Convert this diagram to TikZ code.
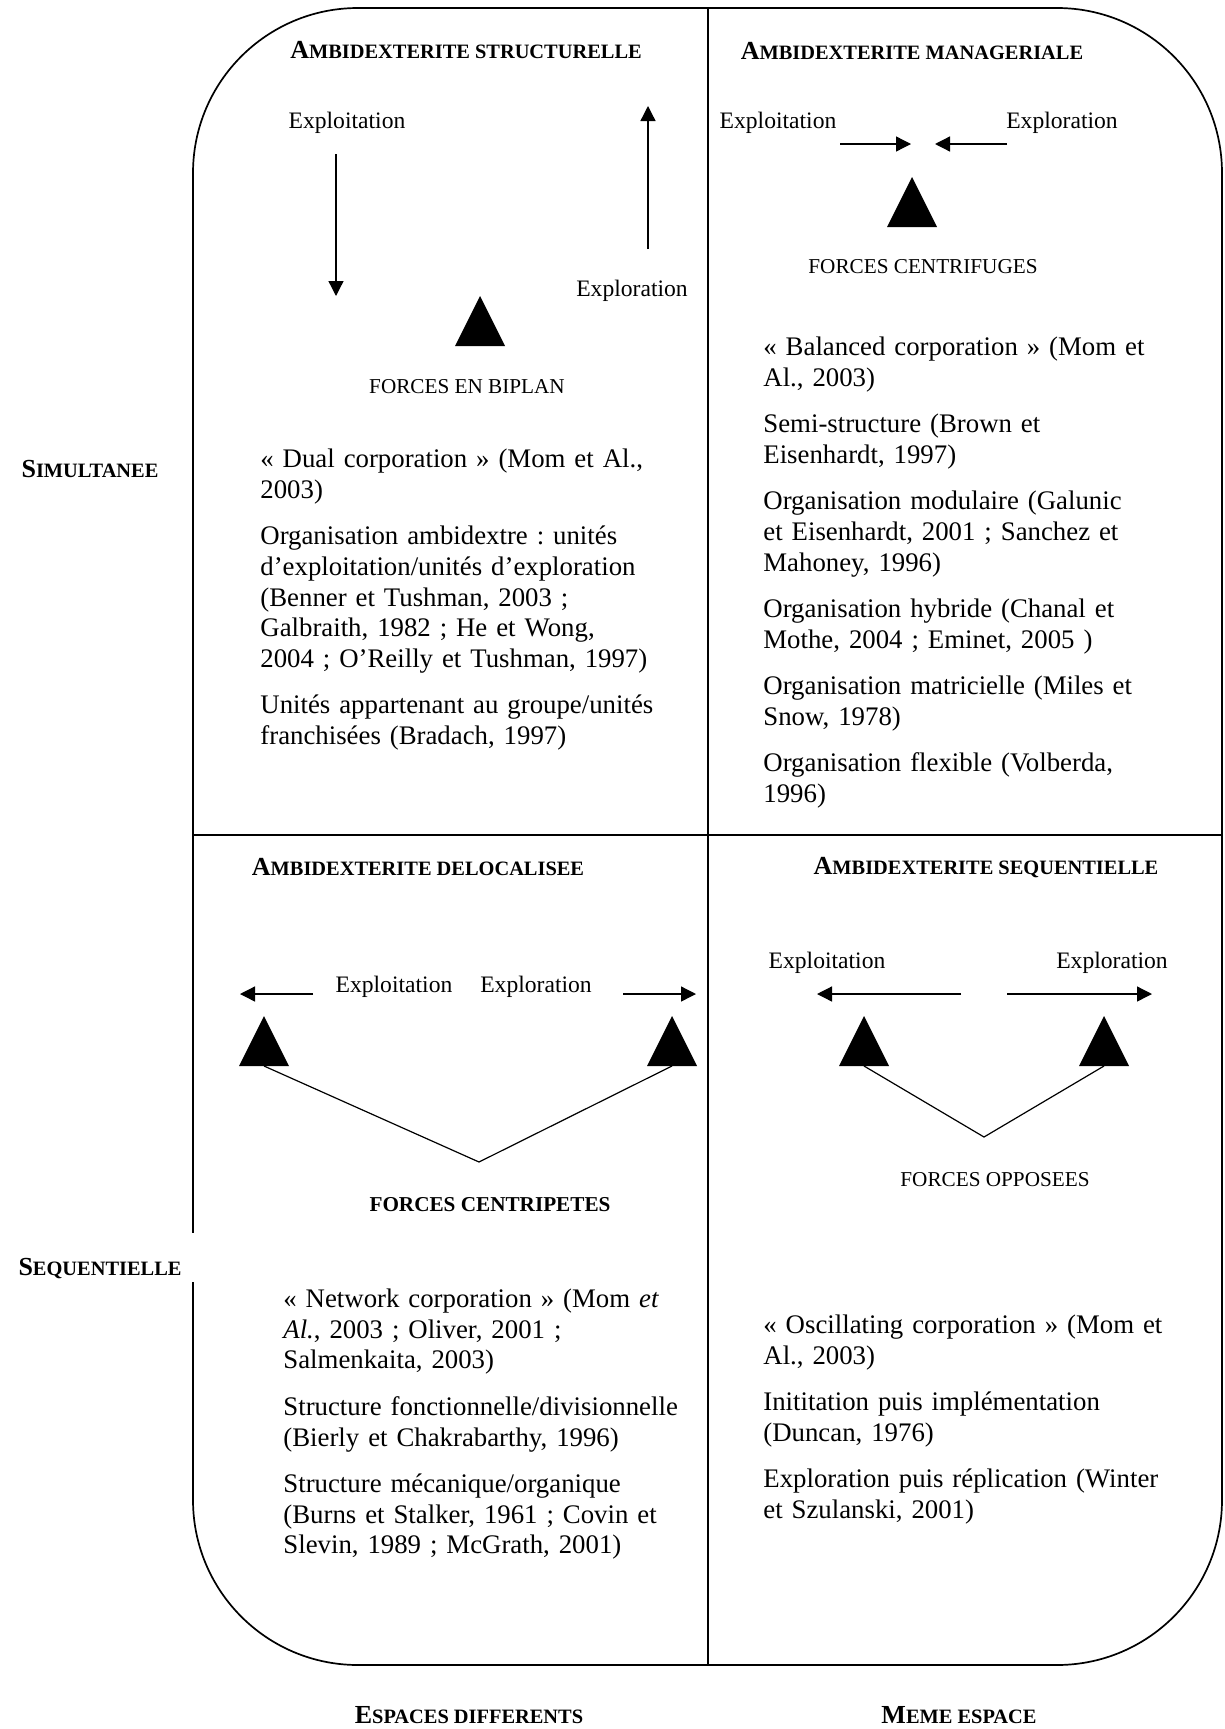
\documentclass[tikz,border=0pt]{standalone}
\usepackage{fontspec}
\setmainfont{Liberation Serif}
\usetikzlibrary{arrows.meta}
% Word-style small capitals: first letter full size, the rest smaller
\newcommand{\fakesc}[2]{#1{\fontsize{10.2}{12}\selectfont #2}}
\frenchspacing

\begin{document}
\begin{tikzpicture}[
    x=0.5pt, y=-0.5pt,
    frame/.style={line width=0.85pt},
    force/.style={line width=0.65pt, -{Triangle[length=7.5pt, width=7.5pt]}},
    link/.style={line width=0.6pt},
    heading/.style={anchor=base, inner sep=0pt, font=\fontsize{13}{15.6}\selectfont\bfseries},
    tag/.style={anchor=base, inner sep=0pt, font=\fontsize{11.8}{14}\selectfont},
    forces/.style={anchor=base, inner sep=0pt, font=\fontsize{10.6}{12.7}\selectfont},
    refs/.style={anchor=north west, inner sep=0pt, align=left, text width=215pt, font=\fontsize{13.4}{15.4}\selectfont}
]
\useasboundingbox (0,0) rectangle (1225,1729);

% Frame and quadrants
\draw[frame, rounded corners=82.5pt] (193,8) rectangle (1222,1665);
\draw[frame] (708,8) -- (708,1665);
\draw[frame] (193,835) -- (1222,835);

% Axis labels
\node[heading] (simul) at (90,477) {\fakesc{S}{IMULTANEE}};
\node[heading, fill=white, text height=19pt, text depth=1.5pt, inner ysep=2pt, inner xsep=8pt] (sequ) at (100,1275) {\fakesc{S}{EQUENTIELLE}};
\node[heading] (espaces) at (469,1723) {\fakesc{E}{SPACES DIFFERENTS}};
\node[heading] (meme) at (959,1723) {\fakesc{M}{EME ESPACE}};

% Quadrant headings
\node[heading] (h-struct) at (466,58) {\fakesc{A}{MBIDEXTERITE STRUCTURELLE}};
\node[heading] (h-manag) at (912,59) {\fakesc{A}{MBIDEXTERITE MANAGERIALE}};
\node[heading] (h-deloc) at (418,875) {\fakesc{A}{MBIDEXTERITE DELOCALISEE}};
\node[heading] (h-seq) at (986,874) {\fakesc{A}{MBIDEXTERITE SEQUENTIELLE}};

% Exploitation / exploration labels
\node[tag] (tl-expt) at (347,128) {Exploitation};
\node[tag] (tl-expr) at (632,296) {Exploration};
\node[tag] (tr-expt) at (778,128) {Exploitation};
\node[tag] (tr-expr) at (1062,128) {Exploration};
\node[tag] (bl-expt) at (394,992) {Exploitation};
\node[tag] (bl-expr) at (536,992) {Exploration};
\node[tag] (br-expt) at (827,968) {Exploitation};
\node[tag] (br-expr) at (1112,968) {Exploration};

% Forces
\node[forces] (f-biplan) at (467,393) {FORCES EN BIPLAN};
\node[forces] (f-centrif) at (923,273) {FORCES CENTRIFUGES};
\node[forces, font=\fontsize{10.6}{12.7}\selectfont\bfseries] (f-centrip) at (490,1211) {FORCES CENTRIPETES};
\node[forces] (f-oppos) at (995,1186) {FORCES OPPOSEES};

% Triangles (base centre given)
\foreach \n/\x/\y in {tl/480/346, tr/912/227, bla/264/1066, blb/672/1066, bra/864/1066, brb/1104/1066} {
    \coordinate (tri-\n) at (\x,\y);
    \fill (tri-\n) ++(-25,0) -- ++(25,-50) -- ++(25,50) -- cycle;
}
\coordinate (v-bl) at (479,1162);
\coordinate (v-br) at (984,1137);
\draw[link] (tri-bla) -- (v-bl) -- (tri-blb);
\draw[link] (tri-bra) -- (v-br) -- (tri-brb);

% Arrows
\coordinate (tl-d1) at (336,154);  \coordinate (tl-d2) at (336,296);
\coordinate (tl-u1) at (648,249);  \coordinate (tl-u2) at (648,106);
\coordinate (tr-r1) at (840,144);  \coordinate (tr-r2) at (911,144);
\coordinate (tr-l1) at (1007,144); \coordinate (tr-l2) at (935,144);
\coordinate (bl-l1) at (313,994);  \coordinate (bl-l2) at (240,994);
\coordinate (bl-r1) at (623,994);  \coordinate (bl-r2) at (696,994);
\coordinate (br-l1) at (961,994);  \coordinate (br-l2) at (817,994);
\coordinate (br-r1) at (1007,994); \coordinate (br-r2) at (1152,994);
\foreach \a in {tl-d, tl-u, tr-r, tr-l, bl-l, bl-r, br-l, br-r}
    \draw[force] (\a1) -- (\a2);

% References
\node[refs] (refs-tl) at (260,445.4) {\strut « Dual corporation » (Mom et Al.,\\
    2003)\\[7.75pt]
    Organisation ambidextre : unités\\
    d’exploitation/unités d’exploration\\
    (Benner et Tushman, 2003 ;\\
    Galbraith, 1982 ; He et Wong,\\
    2004 ; O’Reilly et Tushman, 1997)\\[7.75pt]
    Unités appartenant au groupe/unités\\
    franchisées (Bradach, 1997)};
\node[refs] (refs-tr) at (763,333.4) {\strut « Balanced corporation » (Mom et\\
    Al., 2003)\\[7.75pt]
    Semi-structure (Brown et\\
    Eisenhardt, 1997)\\[7.75pt]
    Organisation modulaire (Galunic\\
    et Eisenhardt, 2001 ; Sanchez et\\
    Mahoney, 1996)\\[7.75pt]
    Organisation hybride (Chanal et\\
    Mothe, 2004 ; Eminet, 2005 )\\[7.75pt]
    Organisation matricielle (Miles et\\
    Snow, 1978)\\[7.75pt]
    Organisation flexible (Volberda,\\
    1996)};
\node[refs] (refs-bl) at (283,1285.4) {\strut « Network corporation » (Mom \textit{et}\\
    \textit{Al.}, 2003 ; Oliver, 2001 ;\\
    Salmenkaita, 2003)\\[7.75pt]
    Structure fonctionnelle/divisionnelle\\
    (Bierly et Chakrabarthy, 1996)\\[7.75pt]
    Structure mécanique/organique\\
    (Burns et Stalker, 1961 ; Covin et\\
    Slevin, 1989 ; McGrath, 2001)};
\node[refs] (refs-br) at (763,1311.4) {\strut « Oscillating corporation » (Mom et\\
    Al., 2003)\\[7.75pt]
    Inititation puis implémentation\\
    (Duncan, 1976)\\[7.75pt]
    Exploration puis réplication (Winter\\
    et Szulanski, 2001)};
\end{tikzpicture}
\end{document}
